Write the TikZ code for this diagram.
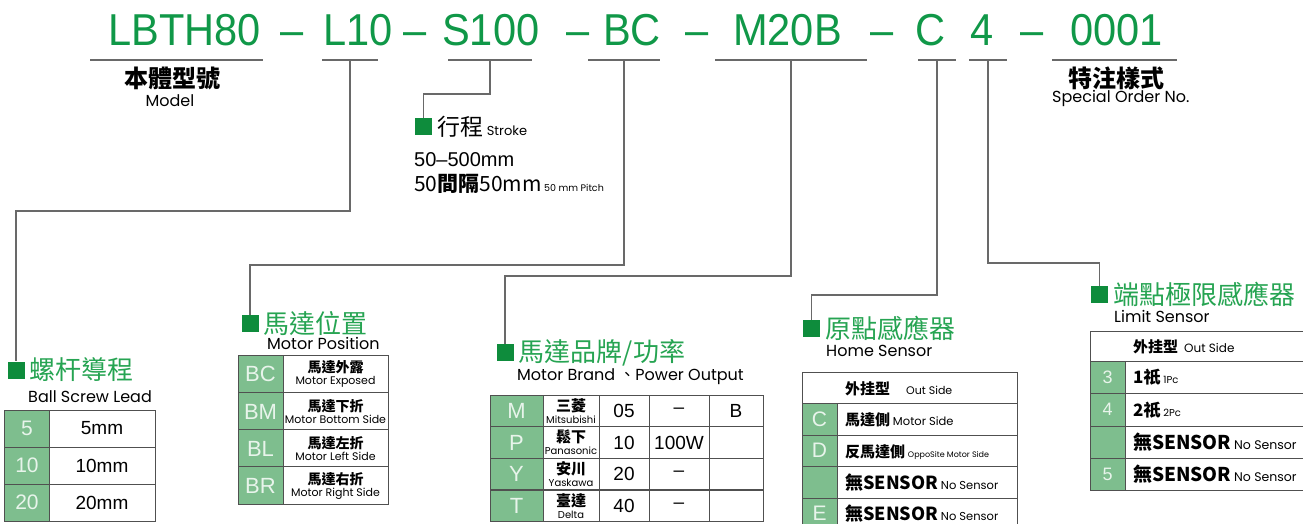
\documentclass[tikz,border=0pt]{standalone}
\usepackage{fontspec}
\setmainfont{Liberation Sans}
\newfontfamily\cjk{Noto Sans CJK TC}
\newfontfamily\geo{Poppins}
\newfontfamily\codefont{Liberation Sans}[FakeStretch=0.93]
\usetikzlibrary{positioning}

\definecolor{codegreen}{RGB}{16,152,72}
\definecolor{headgreen}{RGB}{38,164,82}
\definecolor{markgreen}{RGB}{14,140,60}
\definecolor{cellgreen}{RGB}{126,190,142}
\definecolor{celltext}{RGB}{232,244,235}
\definecolor{rulegray}{RGB}{105,105,105}
\definecolor{gridgray}{RGB}{80,80,80}

\newcommand{\setsz}[1]{\fontsize{#1}{#1}\selectfont}
% two-line cell text: Chinese over English
\newcommand{\duo}[4]{{\cjk\bfseries\setsz{#3}#1}\\{\geo\setsz{#4}#2}}

\begin{document}
\begin{tikzpicture}[x=1pt, y=-1pt,
    code/.style={text=codegreen, font=\codefont\setsz{44.7}, inner sep=0, anchor=base west},
    uline/.style={fill=rulegray, minimum height=1.4pt, inner sep=0},
    conn/.style={draw=rulegray, line width=1.1pt},
    secmark/.style={fill=markgreen, minimum size=17pt, inner sep=0},
    head/.style={text=headgreen, font=\cjk\setsz{26}, inner sep=0, anchor=west},
    sub/.style={font=\geo\setsz{16}, inner sep=0, anchor=west},
    label/.style={font=\cjk\bfseries\setsz{24}, inner sep=0},
    gcell/.style={draw=gridgray, line width=1pt, fill=cellgreen, text=celltext,
                  inner sep=0, font=\setsz{21}},
    wcell/.style={draw=gridgray, line width=1pt, fill=white, inner sep=0},
    duo/.style={align=center, font=\setsz{12}},
    rowtext/.style={inner sep=0, anchor=base west},
  ]
  \useasboundingbox[fill=white] (0,0) rectangle (1303,523);

  % The code line
  \node[code] (cModel) at (108,45) {LBTH80};
  \node[code] (d1) at (280,45) {–};
  \node[code] (cLead) at (323,45) {L10};
  \node[code] (d2) at (403,45) {–};
  \node[code] (cStroke) at (442,45) {S100};
  \node[code] (d3) at (566,45) {–};
  \node[code] (cPos) at (603,45) {BC};
  \node[code] (d4) at (685,45) {–};
  \node[code] (cBrand) at (733,45) {M20B};
  \node[code] (d5) at (870,45) {–};
  \node[code] (cHome) at (915,45) {C};
  \node[code] (cLimit) at (970,45) {4};
  \node[code] (d6) at (1020,45) {–};
  \node[code] (cOrder) at (1070,45) {0001};

  % Underlines
  \node[uline, minimum width=173] (uModel) at (176.5,60) {};
  \node[uline, minimum width=56] (uLead) at (350,60) {};
  \node[uline, minimum width=84] (uStroke) at (490,60) {};
  \node[uline, minimum width=72] (uPos) at (624,60) {};
  \node[uline, minimum width=152] (uBrand) at (791,60) {};
  \node[uline, minimum width=38] (uHome) at (937,60) {};
  \node[uline, minimum width=38] (uLimit) at (988,60) {};
  \node[uline, minimum width=125] (uOrder) at (1114.5,60) {};

  % Model and special order
  \node[label] (tModel) at (172,78) {本體型號};
  \node[sub, anchor=center] (sModel) at (170,101) {Model};
  \node[label] (tOrder) at (1116,78) {特注樣式};
  \node[sub] (sOrder) at (1052,98) {Special Order No.};

  % Section marks
  \node[secmark] (mStroke) at (423.5,126.5) {};
  \node[secmark] (mLead) at (16,370) {};
  \node[secmark] (mPos) at (250,323.5) {};
  \node[secmark] (mBrand) at (505,352.5) {};
  \node[secmark] (mHome) at (811.5,328.5) {};
  \node[secmark] (mLimit) at (1099.5,294.5) {};

  % Connectors
  \coordinate (kStroke) at (0,94);
  \coordinate (kLead) at (0,211);
  \coordinate (kPos) at (0,265);
  \coordinate (kBrand) at (0,276);
  \coordinate (kHome) at (0,295);
  \coordinate (kLimit) at (0,263);
  \draw[conn] (uStroke.center) -- (uStroke.center |- kStroke) -| (mStroke.north);
  \draw[conn] (uLead.center) -- (uLead.center |- kLead) -| (mLead.north);
  \draw[conn] (uPos.center) -- (uPos.center |- kPos) -| (mPos.north);
  \draw[conn] (uBrand.center) -- (uBrand.center |- kBrand) -| (mBrand.north);
  \draw[conn] (uHome.center) -- (uHome.center |- kHome) -| (mHome.north);
  \draw[conn] (uLimit.center) -- (uLimit.center |- kLimit) -| (mLimit.north);

  % Stroke
  \node[inner sep=0, anchor=west, font=\cjk\setsz{23}, right=5pt of mStroke] (tStroke) {行程};
  \node[inner sep=0, anchor=base west, font=\geo\setsz{13}, xshift=3pt] (sStroke) at (tStroke.base east) {Stroke};
  \node[inner sep=0, anchor=base west, font=\setsz{20}] (range) at (414,166) {50–500mm};
  \node[inner sep=0, anchor=base west, font=\cjk\setsz{21}] (pitch) at (414,191) {50{\bfseries 間隔}50mm};
  \node[inner sep=0, anchor=base west, font=\geo\setsz{9.5}, xshift=2pt] (sPitch) at (pitch.base east) {50 mm Pitch};

  % Ball screw lead
  \node[head, right=5pt of mLead] (hLead) {螺杆導程};
  \node[sub] (sLead) at (28,397) {Ball Screw Lead};
  \foreach \y/\k in {428.5/5, 465.5/10, 502.5/20} {
    \node[gcell, minimum width=46, minimum height=37] (ld\k) at (27,\y) {\k};
    \node[wcell, minimum width=106, minimum height=37, font=\setsz{19}] (lv\k) at (102,\y) {\k mm};
  }

  % Motor position
  \node[head, right=5pt of mPos] (hPos) {馬達位置};
  \node[sub] (sPos) at (267,343) {Motor Position};
  \foreach \y/\k/\cn/\en in {374/BC/馬達外露/Motor Exposed, 411.5/BM/馬達下折/Motor Bottom Side,
                             448.5/BL/馬達左折/Motor Left Side, 485.5/BR/馬達右折/Motor Right Side} {
    \node[gcell, minimum width=45, minimum height=37.2, font=\setsz{22}] (pd\k) at (260.5,\y) {\k};
    \node[wcell, duo, minimum width=105, minimum height=37.2] (pv\k) at (335.5,\y) {\duo{\cn}{\en}{14}{11}};
  }

  % Motor brand and power
  \node[head, right=5pt of mBrand] (hBrand) {馬達品牌/功率};
  \node[sub] (sBrand) at (517,377) {Motor Brand {\cjk 、}Power Output};
  \foreach \y/\k/\cn/\en/\w/\p/\o in {411/M/三菱/Mitsubishi/05/–/B, 442.5/P/鬆下/Panasonic/10/100W/,
                                     474/Y/安川/Yaskawa/20/–/, 506/T/臺達/Delta/40/–/} {
    \node[gcell, minimum width=53, minimum height=31.7, font=\setsz{22}] (bd\k) at (516.5,\y) {\k};
    \node[wcell, duo, minimum width=56, minimum height=31.7] (bn\k) at (571,\y) {\duo{\cn}{\en}{15}{10}};
    \node[wcell, minimum width=50, minimum height=31.7, font=\setsz{19}] (bw\k) at (624,\y) {\w};
    \node[wcell, minimum width=60, minimum height=31.7, font=\setsz{19}] (bp\k) at (679,\y) {\p};
    \node[wcell, minimum width=54, minimum height=31.7, font=\setsz{19}] (bo\k) at (736,\y) {\o};
  }

  % Home sensor
  \node[head, right=5pt of mHome] (hHome) {原點感應器};
  \node[sub] (sHome) at (826,351) {Home Sensor};
  \node[wcell, minimum width=215, minimum height=31.5] (hsTop) at (909.5,387.75) {};
  \node[rowtext] (hsTopT) at (845,394) {{\cjk\bfseries\setsz{15}外挂型}\hspace{16pt}{\geo\setsz{11}Out Side}};
  \foreach \y/\k/\t in {419.25/C/C, 450.75/D/D, 482.25/N/, 513.75/E/E} {
    \node[gcell, minimum width=35, minimum height=31.5] (hd\k) at (819.5,\y) {\t};
    \node[wcell, minimum width=180, minimum height=31.5] (hv\k) at (927,\y) {};
  }
  \node[rowtext] (hsC) at (845,425) {{\cjk\bfseries\setsz{15}馬達側} {\geo\setsz{11.5}Motor Side}};
  \node[rowtext] (hsD) at (845,457) {{\cjk\bfseries\setsz{15}反馬達側} {\geo\setsz{8}OppoSite Motor Side}};
  \node[rowtext] (hsN) at (845,489) {{\cjk\bfseries\setsz{18}無SENSOR} {\geo\setsz{11.5}No Sensor}};
  \node[rowtext] (hsE) at (845,520) {{\cjk\bfseries\setsz{18}無SENSOR} {\geo\setsz{11.5}No Sensor}};

  % Limit sensor
  \node[head, right=5pt of mLimit] (hLimit) {端點極限感應器};
  \node[sub] (sLimit) at (1114,316) {Limit Sensor};
  \node[wcell, minimum width=240, minimum height=30] (lsTop) at (1210,346) {};
  \node[rowtext] (lsTopT) at (1133,352) {{\cjk\bfseries\setsz{15}外挂型}\hspace{6pt}{\geo\setsz{12}Out Side}};
  \foreach \y/\k/\t/\h in {377.25/3/3/32.5, 409.75/4/4/32.5, 442/N//32, 474.25/5/5/32.5} {
    \node[gcell, minimum width=35, minimum height=\h, font=\setsz{18}] (ld\k) at (1107.5,\y) {\t};
    \node[wcell, minimum width=205, minimum height=\h] (lv\k) at (1227.5,\y) {};
  }
  \node[rowtext] (ls3) at (1133,383) {{\cjk\bfseries\setsz{17}1祇} {\geo\setsz{10}1Pc}};
  \node[rowtext] (ls4) at (1133,416) {{\cjk\bfseries\setsz{17}2祇} {\geo\setsz{10}2Pc}};
  \node[rowtext] (lsN) at (1133,449) {{\cjk\bfseries\setsz{19}無SENSOR} {\geo\setsz{12.5}No Sensor}};
  \node[rowtext] (ls5) at (1133,481) {{\cjk\bfseries\setsz{19}無SENSOR} {\geo\setsz{12.5}No Sensor}};
\end{tikzpicture}
\end{document}
